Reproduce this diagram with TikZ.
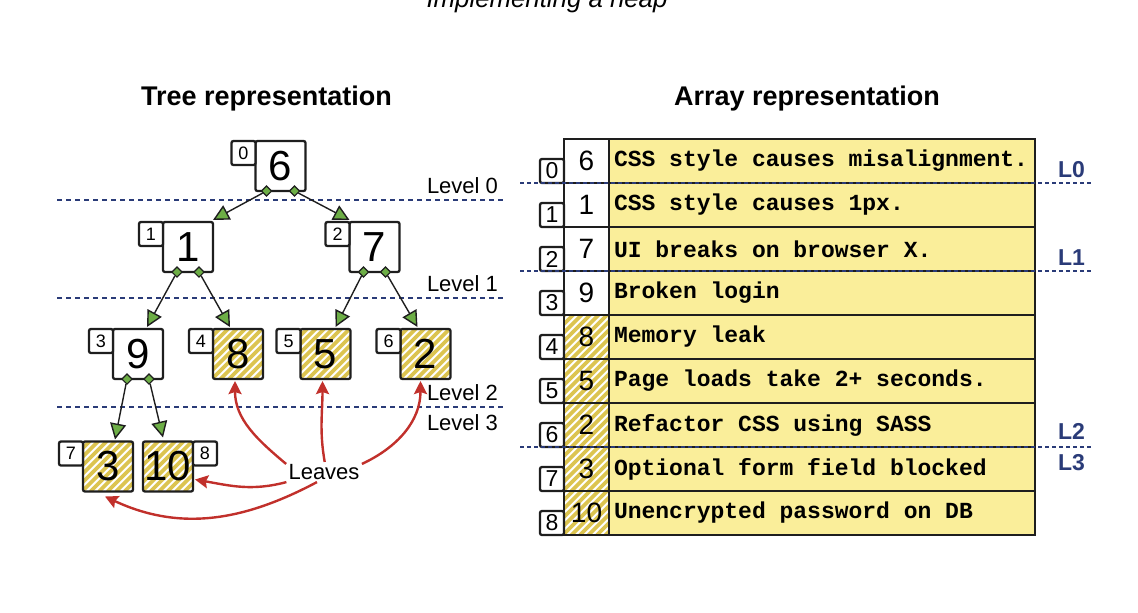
\documentclass[tikz,border=0pt]{standalone}
\usepackage{fontspec}
\setmainfont{Liberation Sans}
\setmonofont{Liberation Mono}
\usetikzlibrary{
	arrows.meta,
	positioning
}
\definecolor{edgegray}{HTML}{1E1E1E}
\definecolor{knobgreen}{HTML}{6DAE46}
\definecolor{stripeyellow}{HTML}{DCC450}
\definecolor{rowyellow}{HTML}{FAEE9A}
\definecolor{levelblue}{HTML}{2A3B78}
\definecolor{leafred}{HTML}{C1302B}
\newcommand\rowfont{\ttfamily\bfseries\fontsize{11.5}{12}\selectfont}
\tikzset{
	valbox/.style={draw=edgegray,line width=1.15pt,rounded corners=1pt,fill=white,minimum width=25pt,minimum height=25pt,inner sep=0pt,outer sep=0pt,font=\fontsize{21}{21}\selectfont},
	idxbox/.style={draw=edgegray,line width=1.15pt,rounded corners=1pt,fill=white,minimum size=12pt,inner sep=0pt,outer sep=0pt,font=\fontsize{9}{9}\selectfont},
	aidxbox/.style={idxbox,font=\fontsize{11.5}{11.5}\selectfont},
	numcell/.style={draw=edgegray,line width=1.15pt,fill=white,minimum width=22.5pt,minimum height=22pt,inner sep=0pt,outer sep=0pt,font=\fontsize{14}{14}\selectfont},
	txtcell/.style={draw=edgegray,line width=1.15pt,fill=rowyellow,minimum height=22pt,text width=208pt,inner xsep=2.5pt,inner ysep=0pt,outer sep=0pt,align=left,font=\rowfont,
		execute at begin node={\spaceskip=6.9pt\relax\xspaceskip=6.9pt\relax}},
	hatched/.style={path picture={
		\foreach \s in {-26,-21.75,...,26}
			\draw[stripeyellow,line width=1.8pt,sharp corners] ([xshift=\s pt]path picture bounding box.south west) -- ++(30pt,30pt);
	}},
	knob/.style={draw=edgegray,line width=0.6pt,fill=knobgreen,rotate=45,minimum size=3.6pt,inner sep=0pt},
	link/.style={draw=edgegray,line width=0.7pt,-{Triangle[length=8pt,width=8pt,fill=knobgreen]}},
	leaf/.style={draw=leafred,line width=1.2pt,-{Stealth[length=6.5pt,width=6.5pt,inset=1pt]}},
	level/.style={levelblue,line width=1pt,dash pattern=on 2.5pt off 2pt},
	alevel/.style={levelblue,line width=0.8pt,dash pattern=on 2pt off 1.5pt},
	lvltext/.style={anchor=base east,font=\fontsize{11}{11}\selectfont},
	ltext/.style={anchor=base east,text=levelblue,font=\bfseries\fontsize{11.5}{11.5}\selectfont},
	title/.style={anchor=base,font=\bfseries\fontsize{13.5}{14}\selectfont}
}
\begin{document}
\begin{tikzpicture}[x=0.5pt,y=-0.5pt]
    % Definitions
    \coordinate (T0) at (280.5,166);
    \coordinate (T1) at (188,247);
    \coordinate (T2) at (374.5,247);
    \coordinate (T3) at (138,354);
    \coordinate (T4) at (238,354);
    \coordinate (T5) at (325.5,354);
    \coordinate (T6) at (425.5,354);
    \coordinate (T7) at (108,466.5);
    \coordinate (T8) at (168,466.5);
    \coordinate (A0) at (586.5,161);
    \coordinate (A1) at (586.5,205);
    \coordinate (A2) at (586.5,249);
    \coordinate (A3) at (586.5,293);
    \coordinate (A4) at (586.5,337);
    \coordinate (A5) at (586.5,381);
    \coordinate (A6) at (586.5,425);
    \coordinate (A7) at (586.5,469);
    \coordinate (A8) at (586.5,513);
    % Frame
    \useasboundingbox (0,0) rectangle (1138,612);
    \clip (0,0) rectangle (1138,612);
    % Titles
    \node (Head) at (547,7)       [anchor=base,font=\itshape\fontsize{12.9}{14}\selectfont] {Implementing a heap};
    \node (TrTi) at (266.5,105.7) [title] {Tree representation};
    \node (ArTi) at (807,105.7)   [title] {Array representation};
    % Levels
    \draw[level] (57,200) -- (505,200);
    \draw[level] (57,298) -- (505,298);
    \draw[level] (57,407) -- (505,407);
    \node (LvZe) at (505,193)   [lvltext] {Level 0};
    \node (LvOn) at (505,291)   [lvltext] {Level 1};
    \node (LvTw) at (505,400.5) [lvltext] {Level 2};
    \node (LvTh) at (505,430)   [lvltext] {Level 3};
    % Tree nodes
    \node (TrZe) at (T0) [valbox]         {6};
    \node (TrOn) at (T1) [valbox]         {1};
    \node (TrTw) at (T2) [valbox]         {7};
    \node (TrTh) at (T3) [valbox]         {9};
    \node (TrFo) at (T4) [valbox,hatched] {8};
    \node (TrFi) at (T5) [valbox,hatched] {5};
    \node (TrSi) at (T6) [valbox,hatched] {2};
    \node (TrSe) at (T7) [valbox,hatched] {3};
    \node (TrEi) at (T8) [valbox,hatched] {10};
    \node (IxZe) at (TrZe.north west) [idxbox,anchor=north east] {0};
    \node (IxOn) at (TrOn.north west) [idxbox,anchor=north east] {1};
    \node (IxTw) at (TrTw.north west) [idxbox,anchor=north east] {2};
    \node (IxTh) at (TrTh.north west) [idxbox,anchor=north east] {3};
    \node (IxFo) at (TrFo.north west) [idxbox,anchor=north east] {4};
    \node (IxFi) at (TrFi.north west) [idxbox,anchor=north east] {5};
    \node (IxSi) at (TrSi.north west) [idxbox,anchor=north east] {6};
    \node (IxSe) at (TrSe.north west) [idxbox,anchor=north east] {7};
    \node (IxEi) at (TrEi.north east) [idxbox,anchor=north west] {8};
    \node (KnZeL) at ([xshift=-7pt]TrZe.south)  [knob] {};
    \node (KnZeR) at ([xshift=7pt]TrZe.south)   [knob] {};
    \node (KnOnL) at ([xshift=-5.5pt]TrOn.south) [knob] {};
    \node (KnOnR) at ([xshift=5.5pt]TrOn.south)  [knob] {};
    \node (KnTwL) at ([xshift=-5.5pt]TrTw.south) [knob] {};
    \node (KnTwR) at ([xshift=5.5pt]TrTw.south)  [knob] {};
    \node (KnThL) at ([xshift=-5.5pt]TrTh.south) [knob] {};
    \node (KnThR) at ([xshift=5.5pt]TrTh.south)  [knob] {};
    \node (Leav) at (324,472) [inner sep=1pt,font=\fontsize{11}{11}\selectfont] {Leaves};
    % Array
    \node (ArZe) at (A0) [numcell]         {6};
    \node (ArOn) at (A1) [numcell]         {1};
    \node (ArTw) at (A2) [numcell]         {7};
    \node (ArTh) at (A3) [numcell]         {9};
    \node (ArFo) at (A4) [numcell,hatched] {8};
    \node (ArFi) at (A5) [numcell,hatched] {5};
    \node (ArSi) at (A6) [numcell,hatched] {2};
    \node (ArSe) at (A7) [numcell,hatched] {3};
    \node (ArEi) at (A8) [numcell,hatched] {10};
    \node (TxZe) [txtcell,right=0pt of ArZe] {CSS style causes misalignment.};
    \node (TxOn) [txtcell,right=0pt of ArOn] {CSS style causes 1px.};
    \node (TxTw) [txtcell,right=0pt of ArTw] {UI breaks on browser X.};
    \node (TxTh) [txtcell,right=0pt of ArTh] {Broken login};
    \node (TxFo) [txtcell,right=0pt of ArFo] {Memory leak};
    \node (TxFi) [txtcell,right=0pt of ArFi] {Page loads take 2+ seconds.};
    \node (TxSi) [txtcell,right=0pt of ArSi] {Refactor CSS using SASS};
    \node (TxSe) [txtcell,right=0pt of ArSe] {Optional form field blocked};
    \node (TxEi) [txtcell,right=0pt of ArEi] {Unencrypted password on DB};
    \node (AiZe) at (ArZe.south west) [aidxbox,anchor=south east] {0};
    \node (AiOn) at (ArOn.south west) [aidxbox,anchor=south east] {1};
    \node (AiTw) at (ArTw.south west) [aidxbox,anchor=south east] {2};
    \node (AiTh) at (ArTh.south west) [aidxbox,anchor=south east] {3};
    \node (AiFo) at (ArFo.south west) [aidxbox,anchor=south east] {4};
    \node (AiFi) at (ArFi.south west) [aidxbox,anchor=south east] {5};
    \node (AiSi) at (ArSi.south west) [aidxbox,anchor=south east] {6};
    \node (AiSe) at (ArSe.south west) [aidxbox,anchor=south east] {7};
    \node (AiEi) at (ArEi.south west) [aidxbox,anchor=south east] {8};
    \draw[alevel] (520,183) -- (1092,183);
    \draw[alevel] (520,271) -- (1092,271);
    \draw[alevel] (520,447) -- (1092,447);
    \node (LaZe) at (1092,177) [ltext] {L0};
    \node (LaOn) at (1092,265) [ltext] {L1};
    \node (LaTw) at (1092,439) [ltext] {L2};
    \node (LaTh) at (1092,470) [ltext] {L3};
    % Arrows
    \draw[link] (KnZeL) -- ([yshift=1pt]TrOn.north east);
    \draw[link] (KnZeR) -- ([yshift=1pt]TrTw.north west);
    \draw[link] (KnOnL) -- ([xshift=4.5pt,yshift=1pt]TrTh.north);
    \draw[link] (KnOnR) -- ([xshift=-4pt,yshift=1pt]TrFo.north);
    \draw[link] (KnTwL) -- ([xshift=5pt,yshift=1pt]TrFi.north);
    \draw[link] (KnTwR) -- ([xshift=-4pt,yshift=1pt]TrSi.north);
    \draw[link] (KnThL) -- ([xshift=3.5pt,yshift=1pt]TrSe.north);
    \draw[link] (KnThR) -- ([xshift=-2.5pt,yshift=2pt]TrEi.north);
    \draw[leaf] (Leav.168) to[out=140,in=-90] ([xshift=-1.5pt,yshift=-1pt]TrFo.south);
    \draw[leaf] (Leav.86)  to[out=100,in=-90] ([xshift=-1.5pt,yshift=-1pt]TrFi.south);
    \draw[leaf] (Leav.12)  to[out=25,in=-90]  ([xshift=-2.5pt,yshift=-1pt]TrSi.south);
    \draw[leaf] (Leav.195) to[out=195,in=-10] ([xshift=1pt,yshift=-6.5pt]TrEi.east);
    \draw[leaf] (Leav.235) to[out=208,in=-25] ([xshift=-1.5pt,yshift=-2.5pt]TrSe.south);
\end{tikzpicture}
\end{document}
